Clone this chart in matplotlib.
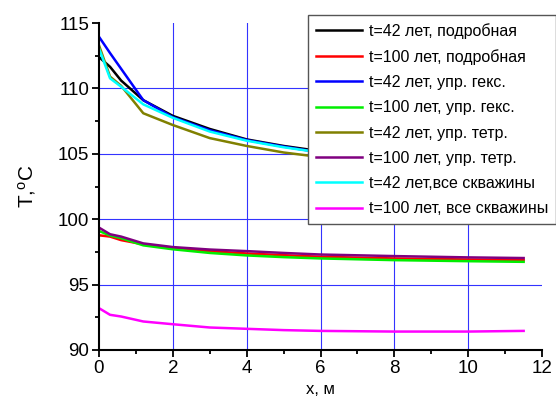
import matplotlib.pyplot as plt
from matplotlib.ticker import MultipleLocator

plt.rcParams['font.family'] = ['Liberation Sans', 'DejaVu Sans']

x = [0, 0.3, 0.6, 1.2, 2, 3, 4, 5, 6, 8, 10, 11.5]

# t=42
t42_detail = [112.4, 111.65, 110.6, 109.1, 107.9, 106.9, 106.1, 105.6, 105.2, 104.8, 104.5, 104.4]
t42_hex = [113.95, 112.7, 111.5, 109.1, 107.8, 106.8, 106.05, 105.55, 105.1, 104.7, 104.4, 104.3]
t42_tetr = [113.3, 110.9, 110.2, 108.1, 107.2, 106.2, 105.6, 105.1, 104.75, 104.4, 104.1, 104.0]
t42_all = [113.06, 110.77, 110.13, 108.78, 107.75, 106.7, 106.0, 105.5, 105.1, 104.7, 104.4, 104.3]

# t=100
t100_detail = [98.77, 98.67, 98.4, 98.08, 97.77, 97.55, 97.38, 97.25, 97.13, 97.0, 96.92, 96.87]
t100_hex = [99.1, 98.75, 98.55, 98.0, 97.7, 97.42, 97.23, 97.1, 97.0, 96.87, 96.79, 96.74]
t100_tetr = [99.36, 98.85, 98.67, 98.15, 97.87, 97.68, 97.56, 97.42, 97.3, 97.18, 97.08, 97.03]
t100_all = [93.2, 92.69, 92.56, 92.18, 91.97, 91.72, 91.62, 91.52, 91.46, 91.41, 91.41, 91.46]

series = [
    (t42_detail, 'black', 't=42 лет, подробная'),
    (t100_detail, 'red', 't=100 лет, подробная'),
    (t42_hex, '#0000ff', 't=42 лет, упр. гекс.'),
    (t100_hex, '#00ee00', 't=100 лет, упр. гекс.'),
    (t42_tetr, '#808000', 't=42 лет, упр. тетр.'),
    (t100_tetr, '#800080', 't=100 лет, упр. тетр.'),
    (t42_all, '#00ffff', 't=42 лет,все скважины'),
    (t100_all, '#ff00ff', 't=100 лет, все скважины'),
]

fig = plt.figure(figsize=(5.56, 4.0), dpi=100)
ax = fig.add_axes([0.178, 0.125, 0.797, 0.8175])

for y, c, lab in series:
    ax.plot(x, y, color=c, lw=1.8, label=lab)

ax.set_xlim(0, 12)
ax.set_ylim(90, 115)
ax.xaxis.set_major_locator(MultipleLocator(2))
ax.xaxis.set_minor_locator(MultipleLocator(1))
ax.yaxis.set_major_locator(MultipleLocator(5))
ax.yaxis.set_minor_locator(MultipleLocator(2.5))
ax.grid(True, which='major', color='#3333ff', lw=0.8)
ax.set_axisbelow(True)
fig.canvas.draw()
for gl, t in zip(ax.get_xgridlines(), ax.get_xticks()):
    if t <= 0 or t >= 12:
        gl.set_visible(False)
for gl, t in zip(ax.get_ygridlines(), ax.get_yticks()):
    if t <= 90 or t >= 115:
        gl.set_visible(False)

for s in ['top', 'right']:
    ax.spines[s].set_visible(False)
for s in ['left', 'bottom']:
    ax.spines[s].set_linewidth(1.5)
ax.tick_params(which='major', length=5, width=1.3, labelsize=13.5, pad=2)
ax.tick_params(which='minor', length=3, width=1.3)

ax.set_xlabel('x, м', fontsize=12, labelpad=4)
ax.set_ylabel('$\\mathregular{T{,}^{o}C}$', fontsize=15, labelpad=14)

leg = ax.legend(loc='upper left', bbox_to_anchor=(0.554, 0.9625),
                bbox_transform=fig.transFigure, fontsize=11.5, frameon=True,
                fancybox=False, framealpha=1, edgecolor='#555555',
                handlelength=2.9, labelspacing=0.64, borderpad=0.5,
                handletextpad=0.4, borderaxespad=0)
leg.get_frame().set_linewidth(1.0)

fig.savefig('out.png', dpi=100)
